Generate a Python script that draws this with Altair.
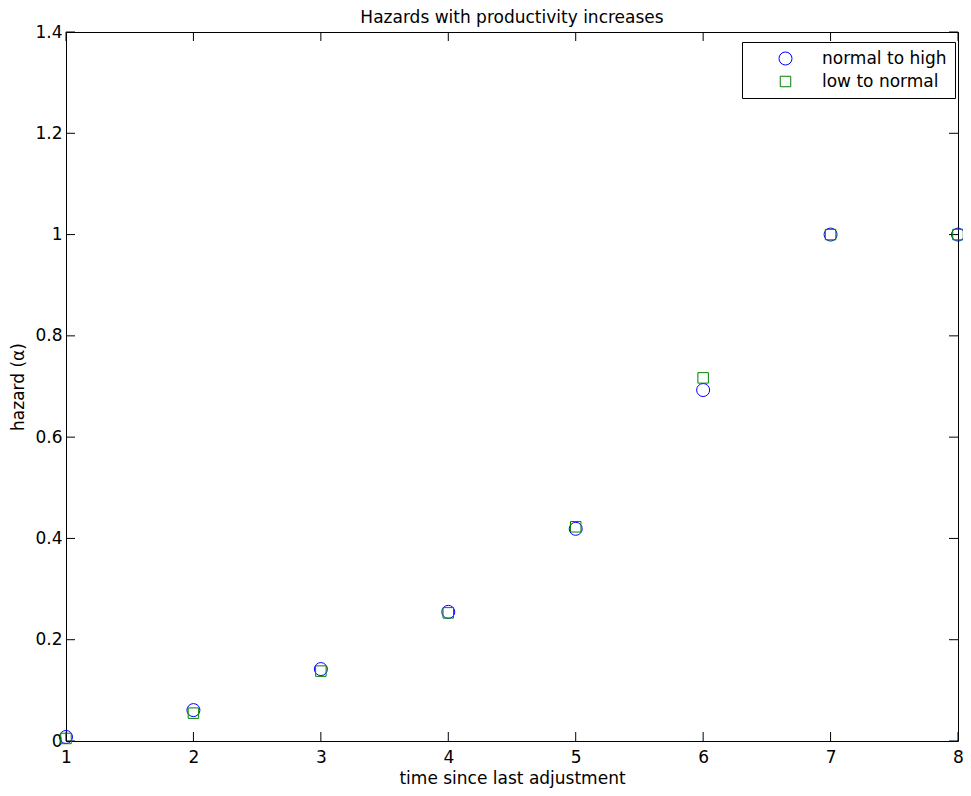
import altair as alt
import pandas as pd

time = [1, 2, 3, 4, 5, 6, 7, 8]
normal_to_high = [0.008, 0.061, 0.142, 0.255, 0.419, 0.693, 1.0, 1.0]
low_to_normal = [0.005, 0.055, 0.138, 0.253, 0.423, 0.717, 1.0, 1.0]
series = ["normal to high", "low to normal"]
x_ticks = [1, 2, 3, 4, 5, 6, 7, 8]
y_ticks = [0, 0.2, 0.4, 0.6, 0.8, 1.0, 1.2, 1.4]

W, H = 892, 709
TICK = 9
FONT = "DejaVu Sans"
FS = 17

df = pd.DataFrame({
    "time": time * 2,
    "hazard": normal_to_high + low_to_normal,
    "series": [series[0]] * len(time) + [series[1]] * len(time),
})
xt = pd.DataFrame({"t": x_ticks})
yt = pd.DataFrame({"v": y_ticks})

xscale = alt.Scale(domain=[1, 8], nice=False, zero=False)
yscale = alt.Scale(domain=[0, 1.4], nice=False)

points = alt.Chart(df).mark_point(filled=False, strokeWidth=1, opacity=1).encode(
    x=alt.X("time:Q", scale=xscale,
            axis=alt.Axis(values=x_ticks, format="d", tickSize=0, domain=False, grid=False,
                          labelFlush=False, labelPadding=8, labelFontSize=FS, labelFont=FONT,
                          labelColor="black",
                          title="time since last adjustment", titleFontSize=FS, titleFont=FONT,
                          titleFontWeight="normal", titleColor="black", titlePadding=5)),
    y=alt.Y("hazard:Q", scale=yscale,
            axis=alt.Axis(values=y_ticks, tickSize=0, domain=False, grid=False,
                          labelFlush=False, labelPadding=4, labelFontSize=FS, labelFont=FONT,
                          labelColor="black",
                          labelExpr="datum.value == 0 ? '0' : datum.value == 1 ? '1' : format(datum.value, '.1f')",
                          title="hazard (α)", titleFontSize=FS, titleFont=FONT,
                          titleFontWeight="normal", titleColor="black", titlePadding=7)),
    color=alt.Color("series:N", scale=alt.Scale(domain=series, range=["#0000ff", "#008000"]),
                    legend=alt.Legend(title=None, orient="none", legendX=676, legendY=10,
                                      strokeColor="black", fillColor="white", padding=8,
                                      symbolOffset=27, labelOffset=28, rowPadding=5,
                                      labelFontSize=FS, labelFont=FONT, labelColor="black",
                                      symbolStrokeWidth=1)),
    shape=alt.Shape("series:N", scale=alt.Scale(domain=series, range=["circle", "square"])),
    size=alt.Size("series:N", scale=alt.Scale(domain=series, range=[169, 110])),
)

bottom_ticks = alt.Chart(xt).mark_rule(color="black", strokeWidth=1).encode(
    x=alt.X("t:Q", scale=xscale), y=alt.value(H), y2=alt.value(H - TICK))
top_ticks = alt.Chart(xt).mark_rule(color="black", strokeWidth=1).encode(
    x=alt.X("t:Q", scale=xscale), y=alt.value(0), y2=alt.value(TICK))
left_ticks = alt.Chart(yt).mark_rule(color="black", strokeWidth=1).encode(
    y=alt.Y("v:Q", scale=yscale), x=alt.value(0), x2=alt.value(TICK))
right_ticks = alt.Chart(yt).mark_rule(color="black", strokeWidth=1).encode(
    y=alt.Y("v:Q", scale=yscale), x=alt.value(W), x2=alt.value(W - TICK))

chart = alt.layer(bottom_ticks, top_ticks, left_ticks, right_ticks, points).properties(
    width=W, height=H,
    background="white",
    title=alt.TitleParams("Hazards with productivity increases", fontSize=FS, font=FONT,
                          fontWeight="normal", color="black", anchor="middle", offset=-4),
    autosize=alt.AutoSizeParams(type="none"),
    padding={"left": 58, "top": 24, "right": 5, "bottom": 47},
).configure_view(stroke="black", strokeWidth=1)

chart.save("out.html", embed_options={"renderer": "svg", "actions": False})
